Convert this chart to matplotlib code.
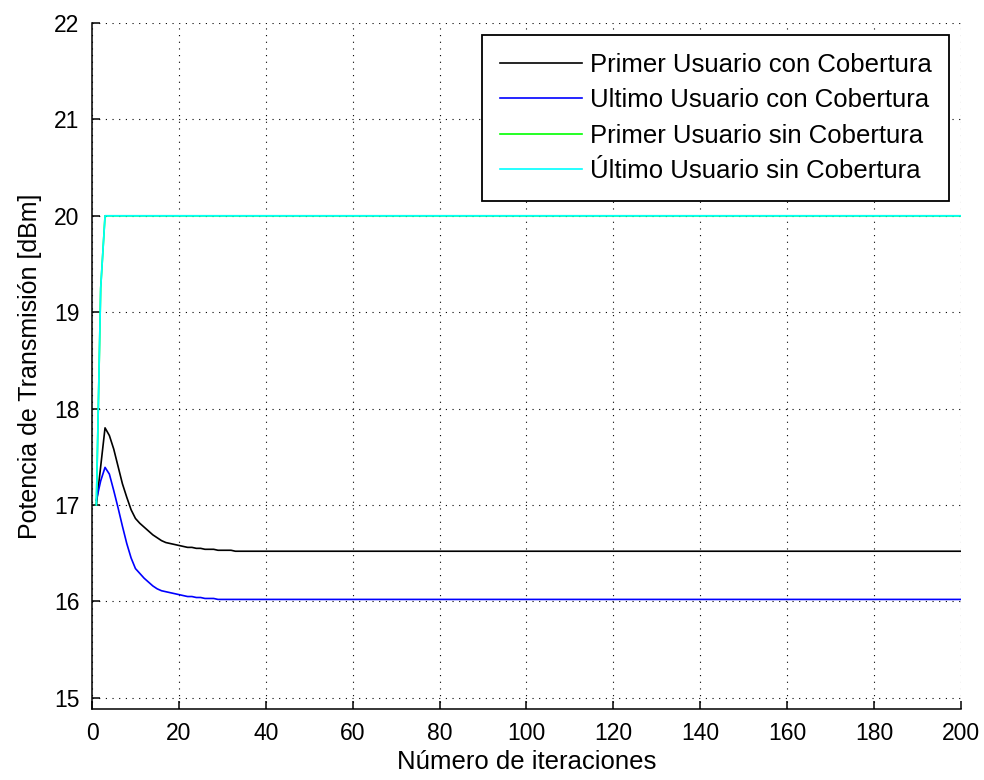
import numpy as np
import matplotlib.pyplot as plt

# ---------------------------------------------------
# DATA
# ---------------------------------------------------
n_iter = 200
iteraciones = np.arange(1, n_iter + 1)

# first iterations, the rest stays at the last value
primer_con_inicio = [17.0, 17.4, 17.8, 17.72, 17.58, 17.4, 17.22, 17.08, 16.95, 16.86,
                     16.81, 16.77, 16.73, 16.69, 16.66, 16.63, 16.61, 16.6, 16.59, 16.58,
                     16.57, 16.56, 16.56, 16.55, 16.55, 16.54, 16.54, 16.54, 16.53, 16.53,
                     16.53, 16.53, 16.52, 16.52]
ultimo_con_inicio = [17.05, 17.25, 17.39, 17.32, 17.15, 16.97, 16.78, 16.6, 16.45, 16.34,
                     16.29, 16.24, 16.2, 16.16, 16.13, 16.11, 16.1, 16.09, 16.08, 16.07,
                     16.06, 16.05, 16.05, 16.04, 16.04, 16.03, 16.03, 16.03, 16.02, 16.02]
primer_sin_inicio = [17.0, 19.25, 20.0]
ultimo_sin_inicio = [17.0, 19.25, 20.0]

primer_con = primer_con_inicio + [16.52] * (n_iter - len(primer_con_inicio))
ultimo_con = ultimo_con_inicio + [16.02] * (n_iter - len(ultimo_con_inicio))
primer_sin = primer_sin_inicio + [20.0] * (n_iter - len(primer_sin_inicio))
ultimo_sin = ultimo_sin_inicio + [20.0] * (n_iter - len(ultimo_sin_inicio))

etiquetas = ["Primer Usuario con Cobertura", "Ultimo Usuario con Cobertura",
             "Primer Usuario sin Cobertura", "Último Usuario sin Cobertura"]

# ---------------------------------------------------
# PLOT
# ---------------------------------------------------
plt.rcParams['font.family'] = ['Liberation Sans', 'DejaVu Sans']
fig = plt.figure(figsize=(9.84, 7.8), dpi=100)
ax = fig.add_axes([0.0935, 0.091, 0.883, 0.8795])

ax.plot(iteraciones, primer_con, color='black', lw=1.2, label=etiquetas[0])
ax.plot(iteraciones, ultimo_con, color='blue', lw=1.2, label=etiquetas[1])
ax.plot(iteraciones, primer_sin, color='#00ff00', lw=1.2, label=etiquetas[2])
ax.plot(iteraciones, ultimo_sin, color='cyan', lw=1.2, label=etiquetas[3])

ax.set_xlim(0, 200)
ax.set_ylim(14.883, 22)
ax.set_xticks(np.arange(0, 201, 20))
ax.set_yticks(np.arange(15, 23, 1))

ax.grid(True, color='black', linestyle=(0, (1, 5)), lw=0.8)
ax.spines['top'].set_visible(False)
ax.spines['right'].set_visible(False)
ax.spines['left'].set_linewidth(1.1)
ax.spines['bottom'].set_linewidth(1.1)
ax.tick_params(direction='in', length=6, width=1.1, labelsize=16.5)
ax.tick_params(axis='x', pad=9)
ax.tick_params(axis='y', pad=9)

ax.set_xlabel("Número de iteraciones", fontsize=18.5, labelpad=4)
ax.set_ylabel("Potencia de Transmisión [dBm]", fontsize=18, labelpad=9)

leg = ax.legend(loc='upper right', fontsize=18.5, fancybox=False, framealpha=1,
                edgecolor='black', handlelength=3.2, handletextpad=0.3,
                labelspacing=0.45, borderpad=0.7, borderaxespad=0.45)
leg.get_frame().set_linewidth(1.3)

plt.savefig("out.png", dpi=100)
